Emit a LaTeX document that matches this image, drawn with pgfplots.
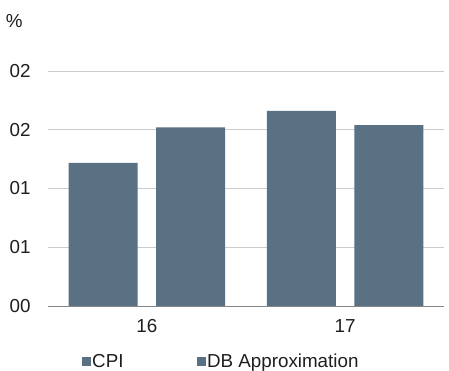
\documentclass[border=0pt]{standalone}
\usepackage{pgfplots}
\pgfplotsset{compat=1.18}
\usepackage{fontspec}
\setmainfont{Liberation Sans}

\definecolor{barblue}{RGB}{90,112,131}
\definecolor{gridgray}{RGB}{204,204,204}
\definecolor{basegray}{RGB}{134,134,134}
\definecolor{txt}{RGB}{30,30,30}

\begin{document}
\begin{tikzpicture}[x=1pt,y=1pt]
\useasboundingbox (0,0) rectangle (449,371);
\begin{axis}[
  at={(47.7pt,65pt)}, anchor=south west,
  scale only axis,
  width=396.6pt, height=235pt,
  xmin=-0.5, xmax=1.5,
  ymin=0, ymax=2,
  axis lines=left,
  y axis line style={draw=none},
  x axis line style={draw=basegray, line width=0.8pt, -},
  major tick length=0pt,
  ymajorgrids,
  grid style={draw=gridgray, line width=0.8pt},
  ytick={0,0.5,1,1.5,2},
  yticklabels={00,01,01,02,02},
  xtick={0,1},
  xticklabels={16,17},
  tick label style={font=\fontsize{18.8}{21}\selectfont, text=txt},
  yticklabel style={anchor=east, inner sep=0pt, xshift=-17pt},
  xticklabel style={anchor=base, inner sep=0pt, yshift=-26.7pt},
  ybar, bar width=0.348,
  legend style={
    at={(0.0857,-0.238)}, anchor=west,
    draw=none, fill=none, inner sep=0pt, outer sep=0pt,
    font=\fontsize{18.8}{21}\selectfont, text=txt,
    legend columns=2,
    nodes={inner xsep=1.5pt, inner ysep=0pt},
    /tikz/every even column/.append style={column sep=71.5pt},
  },
  legend image code/.code={\fill[#1] (0pt,-4.5pt) rectangle (9pt,4.5pt);},
]
\addplot[fill=barblue, draw=none, bar shift=-0.221] coordinates {(0,1.217) (1,1.66)};
\addlegendentry{CPI}
\addplot[fill=barblue, draw=none, bar shift=0.221] coordinates {(0,1.521) (1,1.54)};
\addlegendentry{DB Approximation}
\end{axis}
\node[font=\fontsize{18.8}{21}\selectfont, text=txt, inner sep=0pt] at (14.2,350) {\%};
\end{tikzpicture}
\end{document}
